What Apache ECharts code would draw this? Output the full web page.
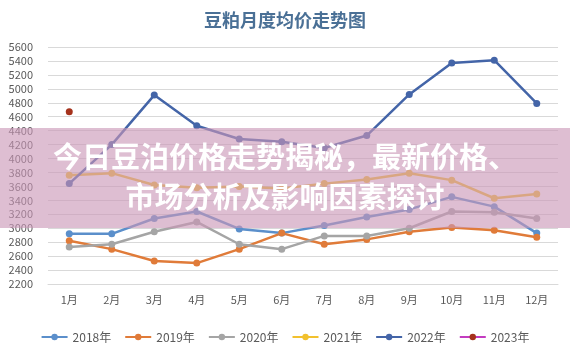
<!DOCTYPE html>
<html><head><meta charset="utf-8">
<script src="https://cdn.jsdelivr.net/npm/echarts@6/dist/echarts.min.js"></script>
<style>html,body{margin:0;padding:0;background:#fff}#c{width:570px;height:356px}</style>
</head><body><div id="c"></div>
<script>
const months = ['1月','2月','3月','4月','5月','6月','7月','8月','9月','10月','11月','12月'];
const seriesNames = ['2018年','2019年','2020年','2021年','2022年','2023年'];
const y2018 = [2920, 2920, 3140, 3240, 2990, 2930, 3040, 3160, 3270, 3450, 3310, 2930];
const y2019 = [2820, 2700, 2530, 2500, 2700, 2930, 2770, 2840, 2950, 3010, 2970, 2870];
const y2020 = [2730, 2770, 2950, 3090, 2770, 2700, 2890, 2890, 3000, 3240, 3230, 3140];
const y2021 = [3760, 3790, 3620, 3580, 3600, 3570, 3640, 3700, 3790, 3690, 3430, 3490];
const y2022 = [3640, 4200, 4910, 4470, 4280, 4240, 4150, 4330, 4920, 5370, 5410, 4790];
const y2023 = [4670, null, null, null, null, null, null, null, null, null, null, null];
const titleText = '豆粕月度均价走势图';
const bannerLine1 = '今日豆泊价格走势揭秘，最新价格、';
const bannerLine2 = '市场分析及影响因素探讨';

const allData = [y2018, y2019, y2020, y2021, y2022, y2023];
const lineColors = ['#5B8FCB', '#E07B39', '#A5A5A5', '#F2C12E', '#4465A8', '#C33CC0'];
const markerColors = ['#5B8FCB', '#E07B39', '#A5A5A5', '#F2C12E', '#4465A8', '#A5321C'];

const chart = echarts.init(document.getElementById('c'), null, {renderer: 'canvas'});
const font = '"Noto Sans CJK SC", "Noto Sans", sans-serif';
chart.setOption({
  animation: false,
  backgroundColor: '#ffffff',
  title: {
    text: titleText, left: 'center', top: 6,
    textStyle: {fontFamily: font, fontSize: 18, fontWeight: 'bold', color: '#4A7096'}
  },
  grid: {left: 48, right: 12, top: 47, height: 237, containLabel: false},
  xAxis: {
    type: 'category', data: months, boundaryGap: true,
    axisLine: {show: true, lineStyle: {color: '#D9D9D9'}},
    axisTick: {show: false},
    axisLabel: {color: '#595959', fontSize: 11, fontFamily: font, margin: 10}
  },
  yAxis: {
    type: 'value', min: 2200, max: 5600, interval: 200,
    axisLine: {show: false}, axisTick: {show: false},
    splitLine: {lineStyle: {color: '#D9D9D9', width: 1}},
    axisLabel: {color: '#595959', fontSize: 11, fontFamily: font, margin: 15,
                formatter: v => String(v)}
  },
  legend: {
    bottom: 8, left: 'center', itemWidth: 26, itemHeight: 8, itemGap: 13,
    textStyle: {color: '#595959', fontSize: 12, fontFamily: font},
    data: seriesNames
  },
  series: seriesNames.map((n, i) => ({
    name: n, type: 'line', data: allData[i],
    symbol: 'circle', symbolSize: 7, showSymbol: true,
    lineStyle: {color: lineColors[i], width: 2.5},
    itemStyle: {color: markerColors[i]},
    connectNulls: false
  })),
  graphic: [
    {type: 'rect', left: 0, top: 128, z: 100,
     shape: {width: 570, height: 100},
     style: {fill: 'rgba(202,150,182,0.62)'}},
    {type: 'text', left: 'center', top: 142, z: 101,
     style: {text: bannerLine1, fill: '#ffffff', font: 'bold 29px "Noto Sans CJK SC"',
             shadowColor: 'rgba(80,40,60,0.35)', shadowBlur: 3, shadowOffsetX: 1, shadowOffsetY: 1}},
    {type: 'text', left: 'center', top: 182, z: 101,
     style: {text: bannerLine2, fill: '#ffffff', font: 'bold 29px "Noto Sans CJK SC"',
             shadowColor: 'rgba(80,40,60,0.35)', shadowBlur: 3, shadowOffsetX: 1, shadowOffsetY: 1}}
  ]
});
</script></body></html>
